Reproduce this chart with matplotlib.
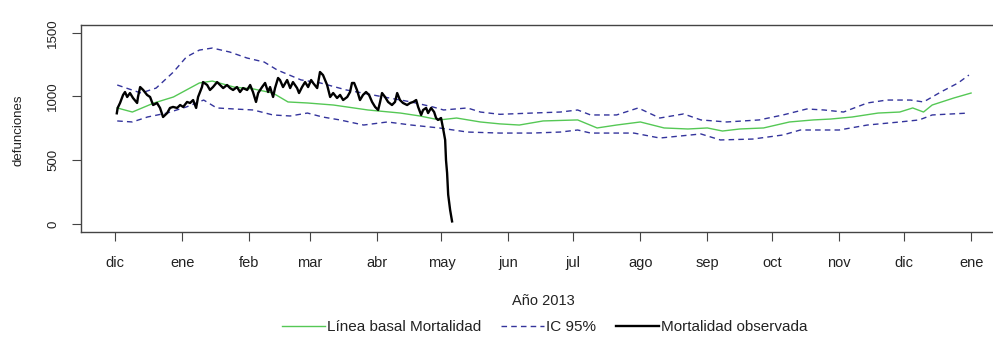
import matplotlib
matplotlib.use("Agg")
import matplotlib.pyplot as plt
import numpy as np

# days since 2012-12-01
base_day = [1, 8, 18, 27, 33, 39, 45, 55, 64, 73, 80, 89, 101, 117, 132, 141,
            150, 158, 169, 178, 187, 198, 214, 223, 232, 243, 254, 265, 274,
            281, 289, 300, 312, 323, 331, 341, 353, 363, 369, 374, 378, 388, 396]
base_val = [910, 878, 949, 996, 1051, 1106, 1121, 1074, 1059, 1027, 957, 949,
            933, 894, 870, 847, 816, 831, 800, 785, 776, 808, 816, 753, 776,
            800, 753, 745, 753, 729, 745, 753, 800, 816, 823, 839, 870, 878,
            910, 878, 933, 988, 1027]

upper_day = [1, 12, 19, 27, 33, 39, 45, 53, 61, 69, 75, 86, 95, 107, 123, 137,
             147, 152, 163, 169, 178, 193, 206, 214, 220, 232, 242, 252, 263,
             271, 283, 298, 309, 320, 328, 337, 348, 357, 368, 374, 382, 390, 395]
upper_val = [1090, 1027, 1066, 1192, 1310, 1364, 1380, 1349, 1302, 1270, 1208,
             1130, 1106, 1051, 1000, 957, 918, 894, 910, 878, 860, 870, 878,
             894, 855, 855, 910, 831, 863, 816, 800, 816, 855, 902, 894, 878,
             949, 972, 972, 957, 1035, 1106, 1168]

lower_day = [1, 8, 15, 24, 33, 41, 47, 55, 64, 73, 81, 89, 96, 104, 115, 126,
             137, 150, 163, 178, 193, 206, 214, 220, 240, 252, 271, 280, 295,
             309, 317, 335, 348, 363, 372, 378, 395]
lower_val = [808, 800, 839, 870, 918, 972, 910, 902, 894, 855, 847, 870, 839,
             816, 776, 800, 776, 753, 721, 713, 713, 721, 737, 713, 713, 674,
             706, 659, 666, 698, 737, 737, 776, 800, 816, 855, 870]

obs_day = [0.8, 1.2, 2.3, 3.7, 4.6, 5.6, 6.9, 8.3, 10.2, 10.6, 11.6, 13.0,
           14.8, 16.2, 17.6, 19.4, 20.8, 22.2, 24.1, 25.4, 26.8, 28.7, 30.1,
           31.5, 33.3, 34.7, 36.1, 37.5, 38.4, 39.3, 40.2, 40.7, 42.6, 43.9,
           45.3, 47.2, 48.6, 50.0, 51.8, 53.2, 54.6, 56.4, 57.8, 59.2, 61.1,
           62.5, 63.8, 65.2, 66.2, 68.0, 69.4, 70.8, 71.7, 73.1, 74.0, 75.4,
           76.3, 77.7, 79.6, 81.0, 82.3, 84.2, 85.1, 86.5, 87.9, 89.3, 90.7,
           91.6, 93.5, 94.8, 96.2, 98.1, 99.5, 100.9, 102.7, 104.1, 105.5,
           107.4, 108.7, 109.6, 110.6, 111.9, 113.3, 114.7, 116.1, 117.5,
           118.9, 120.3, 121.7, 122.6, 123.5, 124.9, 126.3, 128.1, 129.5,
           130.5, 131.8, 133.2, 135.1, 136.5, 137.9, 139.3, 140.2, 141.6,
           142.5, 143.9, 144.8, 146.2, 147.6, 148.5, 149.4, 150.8, 151.7,
           152.7, 153.1, 153.6, 154.1, 155.0, 155.9]
obs_val = [868, 910, 949, 1012, 1035, 996, 1027, 988, 949, 996, 1074, 1051,
           1012, 996, 933, 949, 910, 839, 870, 910, 918, 910, 933, 918, 957,
           949, 972, 910, 996, 1035, 1074, 1113, 1090, 1051, 1074, 1113, 1090,
           1066, 1090, 1066, 1051, 1074, 1035, 1066, 1051, 1090, 1035, 957,
           1027, 1074, 1106, 1035, 1074, 996, 1066, 1145, 1129, 1074, 1129,
           1066, 1113, 1066, 1027, 1074, 1113, 1074, 1129, 1106, 1066, 1192,
           1168, 1090, 996, 1027, 988, 1012, 972, 996, 1035, 1106, 1106, 1051,
           972, 1012, 1035, 1012, 957, 918, 894, 957, 1027, 996, 957, 933,
           957, 1027, 972, 949, 933, 949, 957, 972, 918, 855, 894, 910, 870,
           910, 878, 831, 816, 831, 753, 659, 500, 400, 230, 110, 20]

month_labels = ["dic", "ene", "feb", "mar", "abr", "may", "jun", "jul", "ago",
                "sep", "oct", "nov", "dic", "ene"]
months = np.arange("2012-12", "2014-02", dtype="datetime64[M]")
month_pos = (months.astype("datetime64[D]") - np.datetime64("2012-12-01")).astype(int)

plt.rcParams["font.family"] = ["Liberation Sans", "DejaVu Sans"]
txt = "#222222"
ic_col = "#34349c"

fig = plt.figure(figsize=(9.93, 3.5), dpi=100)
ax = fig.add_axes([0.0814, 0.3383, 0.931, 0.590])

ax.plot(base_day, base_val, color="#55c855", lw=1.0, label="Línea basal Mortalidad")
ax.plot(upper_day, upper_val, color=ic_col, lw=1.0, ls=(0, (4, 3)), label="IC 95%")
ax.plot(lower_day, lower_val, color=ic_col, lw=1.0, ls=(0, (4, 3)))
ax.plot(obs_day, obs_val, color="black", lw=1.7, label="Mortalidad observada")

ax.set_xlim(-15.84, 411.84)
ax.set_ylim(-60, 1560)
ax.set_xticks(month_pos)
ax.set_xticklabels(month_labels)
ax.set_yticks([0, 500, 1000, 1500])
ax.set_yticklabels(["0", "500", "1000", "1500"], rotation=90, va="center")

for s in ax.spines.values():
    s.set_color("#444444")
    s.set_linewidth(1.0)
ax.tick_params(axis="x", length=6.5, color="#444444", labelsize=10.5,
               labelcolor=txt, pad=11)
ax.tick_params(axis="y", length=6.5, color="#444444", labelsize=9.5,
               labelcolor=txt, pad=9)

ax.set_xlabel("Año 2013", fontsize=10.5, color=txt, labelpad=17)
fig.text(18 / 993, 1 - 130 / 350, "defunciones", rotation=90, ha="center",
         va="center", fontsize=9.5, color=txt)

fig.legend(loc="center", bbox_to_anchor=(545 / 993, 1 - 327 / 350), ncol=3,
           frameon=False, fontsize=11, handlelength=2.8, handletextpad=0.15,
           columnspacing=1.3, labelcolor=txt)

fig.savefig("out.png", dpi=100)
